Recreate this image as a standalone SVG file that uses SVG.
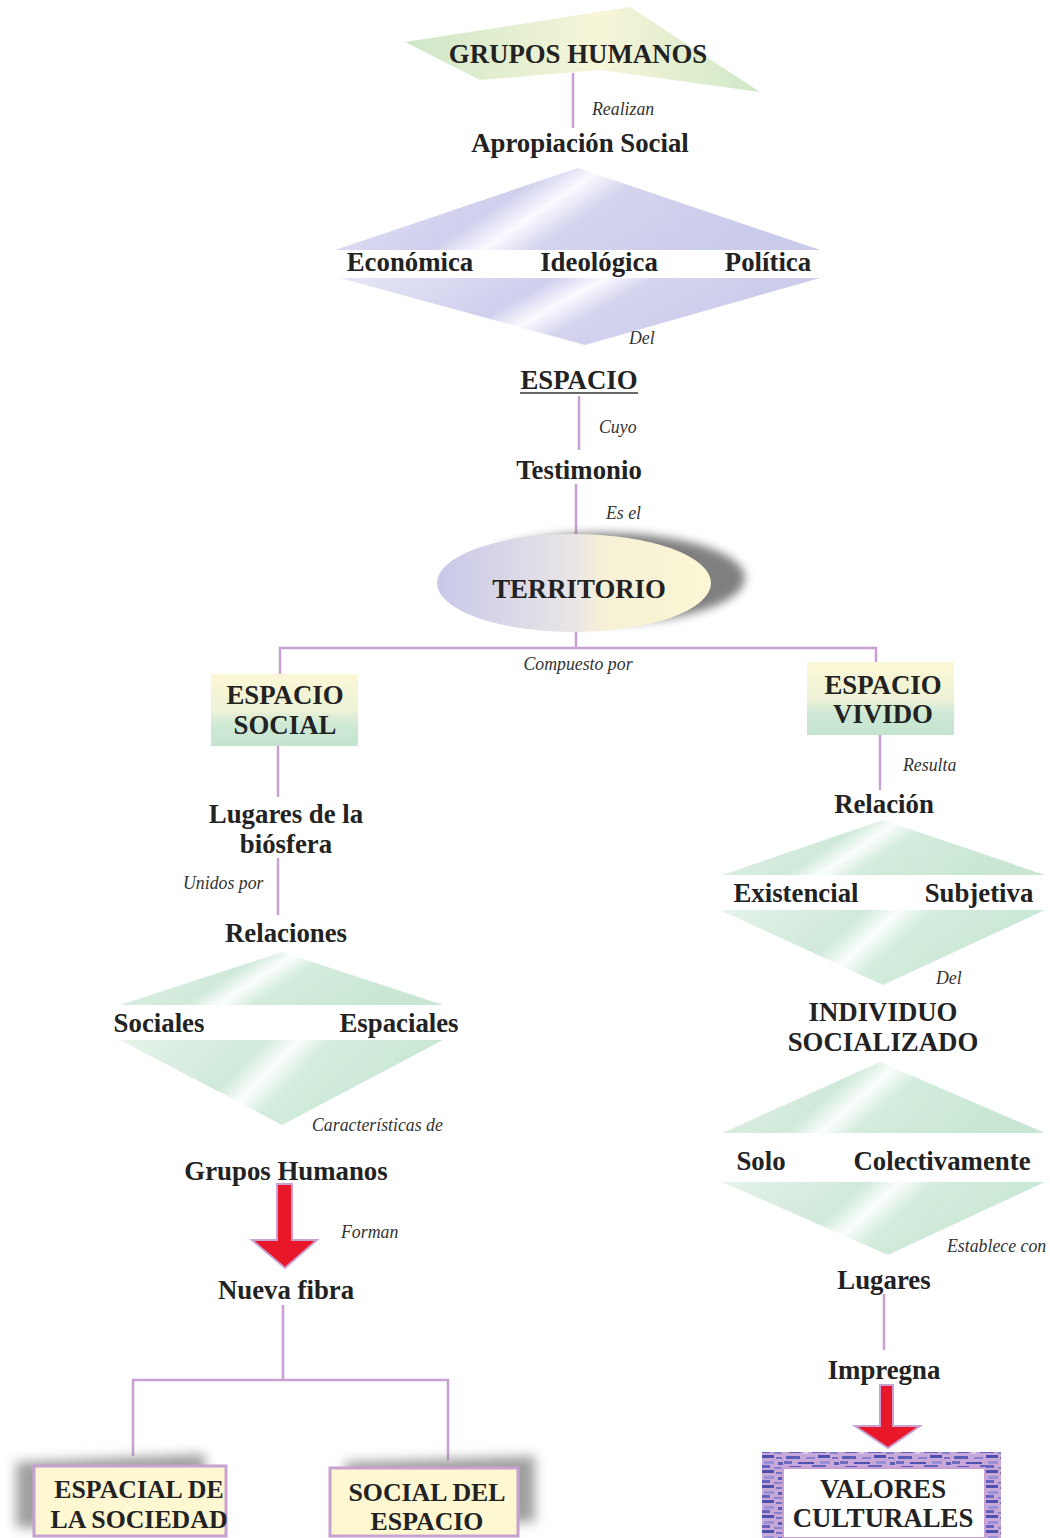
<svg xmlns="http://www.w3.org/2000/svg" width="1050" height="1538" viewBox="0 0 1050 1538">
<style>
.n{font-family:"Liberation Serif","Times New Roman",serif;font-weight:bold;font-size:26.8px;fill:#222;text-anchor:middle}
.b{font-size:25.8px}
.l{font-family:"Liberation Serif","Times New Roman",serif;font-style:italic;font-size:17.8px;fill:#333}
.c{stroke:#c9a0d2;stroke-width:2.5;fill:none}
.bx{fill:#fdf7d2;stroke:#c9a0d2;stroke-width:3}
.arr{fill:#e8182a;stroke:#c9a0d2;stroke-width:2}
.sh{fill:#808080;opacity:0.75}
</style>
<defs>
<linearGradient id="gTop" x1="0" y1="0" x2="1" y2="0">
<stop offset="0" stop-color="#cfe7c8"/><stop offset="0.55" stop-color="#f7f5d8"/><stop offset="1" stop-color="#cfe8c8"/>
</linearGradient>
<linearGradient id="gLav" x1="0" y1="0" x2="1" y2="0.25">
<stop offset="0" stop-color="#e6e6f6"/><stop offset="0.42" stop-color="#cfcfee"/><stop offset="0.52" stop-color="#fafaff"/><stop offset="0.62" stop-color="#d4d4ef"/><stop offset="1" stop-color="#cacaea"/>
</linearGradient>
<linearGradient id="gGrn" x1="0" y1="0" x2="1" y2="0.25">
<stop offset="0" stop-color="#e6f3ea"/><stop offset="0.42" stop-color="#cfe9da"/><stop offset="0.52" stop-color="#fbfefc"/><stop offset="0.62" stop-color="#d3ecdd"/><stop offset="1" stop-color="#c8e6d3"/>
</linearGradient>
<linearGradient id="gEll" x1="0" y1="0" x2="1" y2="0">
<stop offset="0" stop-color="#c8c8ea"/><stop offset="0.5" stop-color="#e9e5e6"/><stop offset="0.6" stop-color="#f6f0d6"/><stop offset="1" stop-color="#fbf6d4"/>
</linearGradient>
<linearGradient id="gBox" x1="0" y1="0" x2="0" y2="1">
<stop offset="0" stop-color="#fbf8d6"/><stop offset="0.5" stop-color="#eef2d6"/><stop offset="0.7" stop-color="#cfe9d6"/><stop offset="1" stop-color="#c4e4d0"/>
</linearGradient>
<filter id="blur" x="-20%" y="-30%" width="140%" height="160%"><feGaussianBlur stdDeviation="5"/></filter>
<filter id="blur2" x="-20%" y="-30%" width="140%" height="160%"><feGaussianBlur stdDeviation="6"/></filter>
<pattern id="tex" width="56" height="15" patternUnits="userSpaceOnUse">
<rect width="56" height="15" fill="#c7a8d8"/>
<rect x="2" y="1" width="14" height="3" fill="#5a5cb8"/>
<rect x="22" y="2" width="9" height="2" fill="#8a80cc"/>
<rect x="34" y="0" width="12" height="3" fill="#4e50ae"/>
<rect x="48" y="2" width="6" height="2" fill="#7470c4"/>
<rect x="0" y="6" width="8" height="3" fill="#6d6cc0"/>
<rect x="14" y="7" width="16" height="2" fill="#4f52b2"/>
<rect x="36" y="6" width="10" height="3" fill="#9a90d4"/>
<rect x="50" y="7" width="5" height="3" fill="#5a5cb8"/>
<rect x="5" y="11" width="12" height="2" fill="#5d5fbc"/>
<rect x="20" y="12" width="4" height="2" fill="#e0c8e8"/>
<rect x="28" y="10" width="14" height="3" fill="#6664be"/>
<rect x="46" y="12" width="8" height="2" fill="#8682cc"/>
</pattern>
</defs>

<g id="connectors">
<line class="c" x1="573" y1="73" x2="573" y2="128"/>
<line class="c" x1="579" y1="396" x2="579" y2="450"/>
<line class="c" x1="576" y1="484" x2="576" y2="537"/>
<polyline class="c" points="576,630 576,648"/>
<polyline class="c" points="280,675 280,648 876,648 876,662"/>
<line class="c" x1="278" y1="746" x2="278" y2="797"/>
<line class="c" x1="278" y1="858" x2="278" y2="915"/>
<line class="c" x1="880" y1="735" x2="880" y2="790"/>
<line class="c" x1="884" y1="1294" x2="884" y2="1350"/>
<polyline class="c" points="283,1305 283,1380"/>
<polyline class="c" points="133,1456 133,1380 448,1380 448,1460"/>
<polygon class="arr" points="277,1184 292,1184 292,1240 317,1240 285,1268 252,1240 277,1240"/>
<polygon class="arr" points="880,1385 893,1385 893,1426 920,1426 888,1448 855,1426 880,1426"/>
<text class="l" x="592" y="115">Realizan</text>
<text class="l" x="629" y="344">Del</text>
<text class="l" x="599" y="433">Cuyo</text>
<text class="l" x="606" y="519">Es el</text>
<text class="l" x="578" y="670" text-anchor="middle">Compuesto por</text>
<text class="l" x="183" y="889">Unidos por</text>
<text class="l" x="312" y="1131">Características de</text>
<text class="l" x="341" y="1238">Forman</text>
<text class="l" x="903" y="771">Resulta</text>
<text class="l" x="936" y="984">Del</text>
<text class="l" x="947" y="1252">Establece con</text>
</g>

<g id="grupos-humanos">
<polygon points="405,42 630,7 760,92 600,70 480,80" fill="url(#gTop)"/>
<text class="n" x="578" y="63">GRUPOS HUMANOS</text>
</g>
<g id="apropiacion"><text class="n" x="580" y="152">Apropiación Social</text></g>
<g id="diamante-apropiacion">
<polygon points="335,250 578,168 820,250" fill="url(#gLav)"/>
<polygon points="340,278 820,278 585,345" fill="url(#gLav)"/>
<text class="n" x="410" y="271">Económica</text>
<text class="n" x="599" y="271">Ideológica</text>
<text class="n" x="768" y="271">Política</text>
</g>
<g id="espacio">
<text class="n" x="579" y="389">ESPACIO</text>
<line x1="520" y1="393" x2="638" y2="393" stroke="#333" stroke-width="1.5"/>
</g>
<g id="testimonio"><text class="n" x="579" y="479">Testimonio</text></g>
<g id="territorio">
<ellipse cx="605" cy="578" rx="140" ry="45" fill="#555" opacity="0.75" filter="url(#blur)"/>
<ellipse cx="574" cy="583" rx="137" ry="49" fill="url(#gEll)"/>
<text class="n" x="579" y="598" font-size="27.5">TERRITORIO</text>
</g>
<g id="espacio-social">
<rect x="211" y="674" width="147" height="72" fill="url(#gBox)"/>
<text class="n" x="285" y="704">ESPACIO</text>
<text class="n" x="285" y="734">SOCIAL</text>
</g>
<g id="espacio-vivido">
<rect x="807" y="662" width="147" height="73" fill="url(#gBox)"/>
<text class="n" x="883" y="694">ESPACIO</text>
<text class="n" x="883" y="723">VIVIDO</text>
</g>
<g id="lugares-biosfera">
<text class="n" x="286" y="823">Lugares de la</text>
<text class="n" x="286" y="853">biósfera</text>
</g>
<g id="relaciones"><text class="n" x="286" y="942">Relaciones</text></g>
<g id="diamante-relaciones">
<polygon points="120,1005 282,952 443,1005" fill="url(#gGrn)"/>
<polygon points="120,1040 443,1040 282,1125" fill="url(#gGrn)"/>
<text class="n" x="159" y="1032">Sociales</text>
<text class="n" x="399" y="1032">Espaciales</text>
</g>
<g id="grupos-humanos-2"><text class="n" x="286" y="1180">Grupos Humanos</text></g>
<g id="nueva-fibra"><text class="n" x="286" y="1299">Nueva fibra</text></g>
<g id="espacial-sociedad">
<path class="sh" d="M16,1462 L205,1454 L205,1522 L16,1528 Z" filter="url(#blur2)"/>
<rect class="bx" x="34" y="1466" width="192" height="70"/>
<text class="n b" x="139" y="1498">ESPACIAL DE</text>
<text class="n b" x="139" y="1528">LA SOCIEDAD</text>
</g>
<g id="social-espacio">
<path class="sh" d="M345,1462 L535,1456 L535,1522 L345,1528 Z" filter="url(#blur2)"/>
<rect class="bx" x="330" y="1468" width="188" height="68"/>
<text class="n b" x="427" y="1501">SOCIAL DEL</text>
<text class="n b" x="427" y="1530">ESPACIO</text>
</g>
<g id="relacion"><text class="n" x="884" y="813">Relación</text></g>
<g id="diamante-relacion">
<polygon points="722,875 883,820 1045,875" fill="url(#gGrn)"/>
<polygon points="720,910 1045,910 883,985" fill="url(#gGrn)"/>
<text class="n" x="796" y="902">Existencial</text>
<text class="n" x="979" y="902">Subjetiva</text>
</g>
<g id="individuo">
<text class="n" x="883" y="1021">INDIVIDUO</text>
<text class="n" x="883" y="1051">SOCIALIZADO</text>
</g>
<g id="diamante-individuo">
<polygon points="722,1133 880,1062 1045,1133" fill="url(#gGrn)"/>
<polygon points="722,1182 1045,1182 888,1255" fill="url(#gGrn)"/>
<text class="n" x="761" y="1170">Solo</text>
<text class="n" x="942" y="1170">Colectivamente</text>
</g>
<g id="lugares"><text class="n" x="884" y="1289">Lugares</text></g>
<g id="impregna"><text class="n" x="884" y="1379">Impregna</text></g>
<g id="valores-culturales">
<rect x="762" y="1452" width="239" height="86" fill="url(#tex)"/>
<rect x="783" y="1468" width="202" height="70" fill="#fff" stroke="#c9a0d2" stroke-width="2"/>
<text class="n" x="883" y="1498">VALORES</text>
<text class="n" x="883" y="1527">CULTURALES</text>
</g>
</svg>
